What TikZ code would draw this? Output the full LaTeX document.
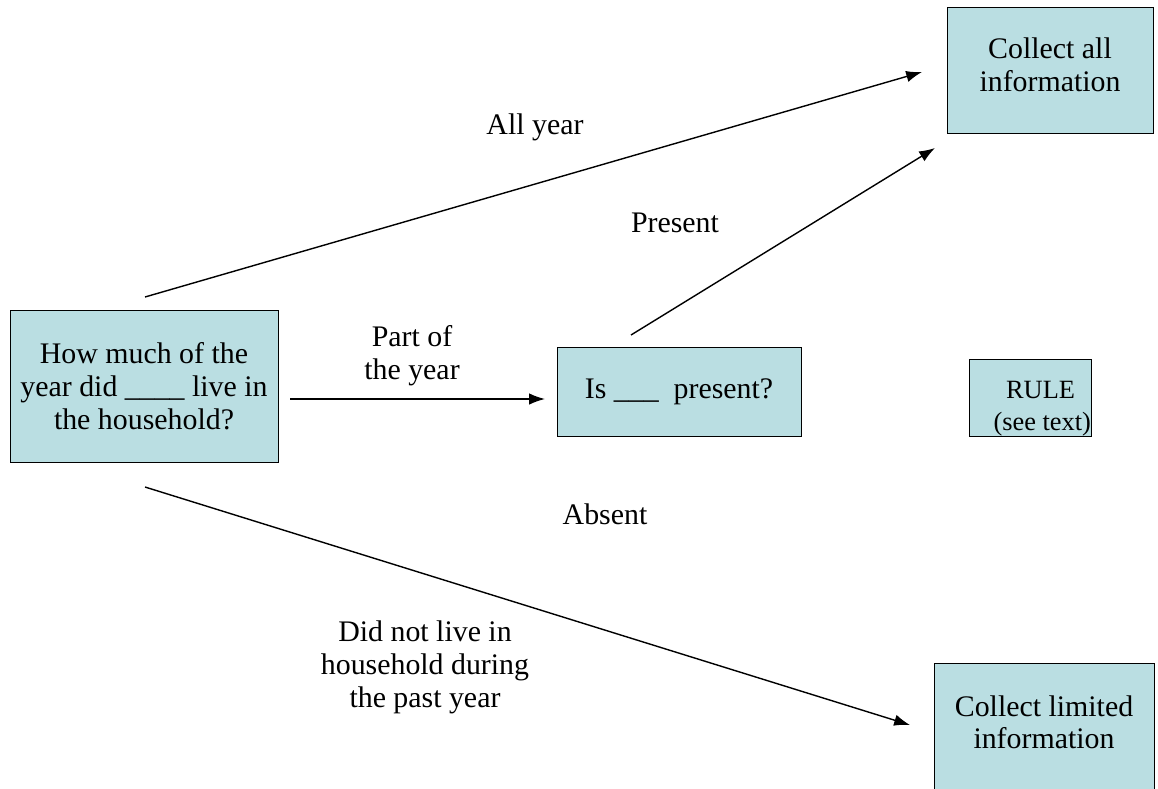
\documentclass[tikz,border=0pt]{standalone}
\usepackage{fontspec}
\setmainfont{Liberation Serif}
\usetikzlibrary{arrows.meta,positioning}
\definecolor{boxfill}{RGB}{186,222,226}
\tikzset{
  box/.style={draw=black,fill=boxfill,inner sep=0pt,align=center,font=\fontsize{17}{18.7}\selectfont},
  edgetext/.style={align=center,font=\fontsize{17}{18.7}\selectfont},
  arr/.style={line width=0.8pt,-{Latex[length=9pt,width=6.5pt]}}
}
\begin{document}
\begin{tikzpicture}[x=0.02cm,y=-0.02cm]
\useasboundingbox (0,0) rectangle (1158,788);
% boxes
\node[box,minimum width=5.36cm,minimum height=3.04cm] (howmuch) at (144,386) {How much of the\\year did \_\_\_\_ live in\\the household?};
\node[box,minimum width=4.12cm,minimum height=2.52cm] (collectall) at (1050,70) {Collect all\\information\\[-13pt]};
\node[box,minimum width=4.88cm,minimum height=1.78cm] (ispresent) at (679,392) {Is \_\_\_\ \ present?};
\node[box,minimum width=2.42cm,minimum height=1.54cm,font=\fontsize{15}{18}\selectfont] (rule) at (1030,398) {\rule{0pt}{22pt}\hspace*{12pt}RULE\\\hspace*{14pt}(see text)};
\node[box,minimum width=4.4cm,minimum height=2.6cm] (collectlim) at (1044,728) {Collect limited\\information\\[-12pt]};
% arrow ends
\coordinate (allA) at (145,297);
\coordinate (allB) at (922,72);
\coordinate (presA) at (631,335);
\coordinate (presB) at (935,148);
\coordinate (partA) at (290,399);
\coordinate (partB) at (545,399);
\coordinate (notA) at (145,487);
\coordinate (notB) at (910,725);
\draw[arr] (allA) -- (allB);
\draw[arr] (presA) -- (presB);
\draw[arr] (partA) -- (partB);
\draw[arr] (notA) -- (notB);
% labels
\node[edgetext] (allyear) at (535,127) {All year};
\node[edgetext] (present) at (675,223) {Present};
\node[edgetext] (partyear) at (412,356) {Part of\\the year};
\node[edgetext] (absent) at (605,514) {Absent};
\node[edgetext] (notlive) at (425,667) {Did not live in\\household during\\the past year};
\end{tikzpicture}
\end{document}
